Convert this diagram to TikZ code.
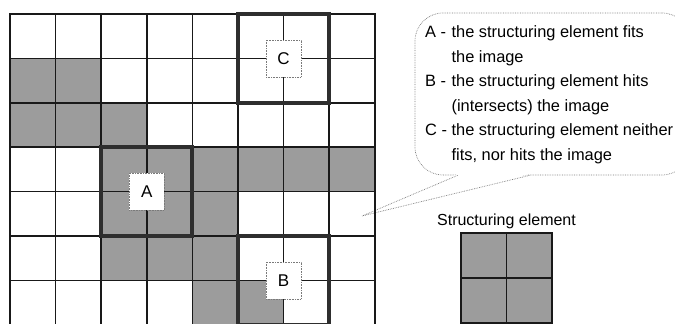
\documentclass[tikz,border=0pt]{standalone}
\usepackage{fontspec}
\setmainfont{Liberation Sans}
\usetikzlibrary{positioning}
\definecolor{cellgray}{HTML}{9C9C9C}
\definecolor{probegray}{HTML}{2E2E2E}
\definecolor{dotgray}{HTML}{7A7A7A}

\begin{document}
\begin{tikzpicture}[
  x=1pt, y=1pt,
  gridline/.style={line width=1.7pt, draw=black!90, line cap=rect},
  cellfill/.style={fill=cellgray},
  probe/.style={line width=4pt, draw=probegray},
  probelabel/.style={draw=dotgray, densely dotted, line width=0.6pt, fill=white,
    minimum width=35pt, minimum height=37pt, inner sep=0pt, font=\fontsize{17}{17}\selectfont},
  bubble/.style={draw=dotgray, densely dotted, line width=0.7pt, fill=white,
    rounded corners=28pt, minimum width=275pt, minimum height=162pt},
  tail/.style={draw=dotgray, densely dotted, line width=0.7pt},
]
\useasboundingbox (0,0) rectangle (675,324);

% legend callout
\node[bubble] (bubble) at (552.5,230) {};
\coordinate (tip) at (362,108);
\coordinate (tailL) at ([xshift=43pt]bubble.south west);
\coordinate (tailR) at ([xshift=115pt]bubble.south west);
\fill[white] ([yshift=1.5pt]tailL) -- (tip) -- ([yshift=1.5pt]tailR) -- cycle;
\draw[tail] (tailL) -- (tip) -- (tailR);
\node[anchor=base west, inner sep=0pt, font=\fontsize{16.4}{24.5}\selectfont] (legend) at (425,286)
  {\begin{tabular}[t]{@{}l@{ }l@{}}
   A - & the structuring element fits\\
       & the image\\
   B - & the structuring element hits\\
       & (intersects) the image\\
   C - & the structuring element neither\\
       & fits, nor hits the image
   \end{tabular}};

% image grid
\begin{scope}[shift={(10,310)}, x=45.6pt, y=-44.4pt]
  \foreach \c/\r in {0/1,1/1, 0/2,1/2,2/2, 2/3,3/3,4/3,5/3,6/3,7/3,
                     2/4,3/4,4/4, 2/5,3/5,4/5, 4/6,5/6}
    \fill[cellfill] (\c,\r) rectangle ++(1,1);
  \foreach \i in {0,...,8} \draw[gridline] (\i,0) -- (\i,7);
  \foreach \j in {0,...,7} \draw[gridline] (0,\j) -- (8,\j);
  \draw[probe] (2,3) rectangle (4,5);
  \draw[probe] (5,5) rectangle (7,7);
  \draw[probe] (5,0) rectangle (7,2);
  \node[probelabel] (probeA) at (3,4) {A};
  \node[probelabel] (probeB) at (6,6) {B};
  \node[probelabel] (probeC) at (6,1) {C};
\end{scope}

% structuring element
\node[anchor=base, font=\fontsize{16}{16}\selectfont] (selabel) at (506.5,98) {Structuring element};
\begin{scope}[shift={(461,91)}, x=45.5pt, y=-45pt]
  \fill[cellfill] (0,0) rectangle (2,2);
  \foreach \i in {0,1,2} {
    \draw[gridline] (\i,0) -- (\i,2);
    \draw[gridline] (0,\i) -- (2,\i);
  }
\end{scope}
\end{tikzpicture}
\end{document}
